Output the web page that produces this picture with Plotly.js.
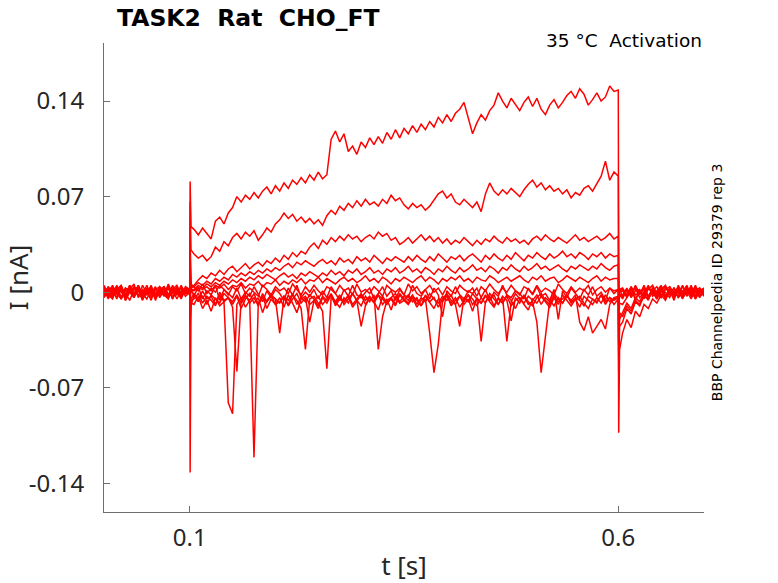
<!DOCTYPE html>
<html>
<head>
<meta charset="utf-8">
<script src="https://cdn.plot.ly/plotly-3.0.1.min.js"></script>
<style>
  html, body { margin: 0; padding: 0; background: #fff; }
  #chart { width: 778px; height: 583px; }
</style>
</head>
<body>
<div id="chart"></div>
<script>
// sample times (ms) shared by every sweep
const tMs = [
  0, 5, 10, 15, 20, 25, 30, 35, 40, 45, 50, 55, 60, 65, 70, 75, 80, 85, 90, 95,
  100, 100.5, 101.5,
  105, 110, 115, 120, 125, 130, 135, 140, 145, 150,
  155, 160, 165, 170, 175, 180, 185, 190, 195, 200,
  205, 210, 215, 220, 225, 230, 235, 240, 245, 250,
  255, 260, 265, 270, 275, 280, 285, 290, 295, 300,
  305, 310, 315, 320, 325, 330, 335, 340, 345, 350,
  355, 360, 365, 370, 375, 380, 385, 390, 395, 400,
  405, 410, 415, 420, 425, 430, 435, 440, 445, 450,
  455, 460, 465, 470, 475, 480, 485, 490, 495, 500,
  505, 510, 515, 520, 525, 530, 535, 540, 545, 550,
  555, 560, 565, 570, 575, 580, 585, 590, 595,
  600, 600.5, 601.5,
  605, 610, 615, 620, 625, 630, 635, 640, 645, 650, 655, 660, 665, 670, 675, 680, 685, 690, 695, 700
];

// currents in pA, one array per sweep
const sweep1 = [
  3, -4, 2, -5, 4, -2, 5, -3, 1, -6, 3, -1, 4, -4, 2, -3, 5, -2, 0, 3,
  2, 81, 48,
  46, 42, 47, 43, 39, 52, 55, 50, 58, 62,
  70, 66, 71, 68, 73, 69, 74, 77, 72, 78,
  74, 80, 76, 82, 79, 84, 80, 86, 82, 88,
  83, 86, 112, 118, 110, 116, 103, 107, 101, 110,
  106, 113, 108, 114, 109, 117, 112, 119, 113, 120,
  116, 122, 117, 123, 119, 125, 121, 128, 124, 130,
  125, 131, 134, 139, 127, 116, 124, 130, 126, 133,
  137, 146, 140, 135, 142, 137, 133, 139, 143, 136,
  142, 134, 130, 137, 141, 135, 139, 144, 147, 142,
  149, 145, 137, 141, 146, 140, 143, 151, 147,
  148, -6, 3,
  -4, 2, -3, 5, -1, 3, -5, 1, 4, -2, 0, -4, 3, -1, 5, -3, 2, -5, 1, -2
];
const sweep2 = [
  -2, 4, -3, 1, 5, -4, 2, -1, 3, -5, 0, 4, -2, 2, -3, 6, -1, 3, -4, 1,
  -1, 66, 31,
  28, 25, 27, 23, 26, 33, 30, 37, 34, 40,
  43, 39, 44, 41, 45, 38, 42, 47, 44, 50,
  53, 58, 54, 57, 52, 55, 51, 54, 50, 53,
  49, 56, 60, 57, 63, 60, 65, 62, 67, 63,
  68, 64, 66, 63, 68, 65, 71, 67, 69, 64,
  61, 65, 62, 64, 60, 63, 68, 72, 74, 69,
  72, 66, 64, 68, 65, 62, 66, 59, 72, 80,
  74, 71, 75, 72, 76, 73, 70, 75, 79, 82,
  77, 80, 75, 78, 74, 76, 72, 75, 69, 73,
  71, 76, 78, 74, 80, 85, 96, 82, 88,
  85, -4, 2,
  3, -2, 4, -5, 1, -3, 2, 5, -1, -4, 3, 0, -2, 4, -3, 1, -5, 2, 3, -1
];
const sweep3 = [
  1, -3, 4, -1, -5, 2, 3, -2, 5, -4, 1, -1, 3, -3, 0, 4, -5, 2, -2, 3,
  1, 40, 4,
  5, 9, 12, 10, 14, 12, 16, 13, 17, 19,
  15, 18, 21, 17, 20, 22, 19, 23, 21, 25,
  22, 27, 24, 29, 26, 30, 28, 33, 36, 32,
  38, 35, 40, 37, 41, 38, 42, 39, 41, 37,
  40, 42, 39, 44, 41, 43, 38, 40, 35, 37,
  40, 36, 39, 42, 38, 41, 37, 40, 36, 39,
  35, 38, 36, 40, 37, 34, 38, 35, 39, 37,
  41, 38, 36, 40, 37, 39, 36, 38, 35, 39,
  41, 38, 42, 39, 37, 40, 38, 36, 39, 42,
  38, 40, 37, 39, 41, 38, 40, 43, 39,
  41, -3, 1,
  2, -4, 1, 3, -2, 5, -3, 0, -5, 2, 4, -1, 3, -4, 1, -2, 5, -3, 2, 0
];
const sweep4 = [
  -3, 2, -1, 5, -4, 3, 0, -2, 4, -5, 2, 1, -3, 3, -1, -4, 2, 5, -2, 0,
  -1, 30, 3,
  4, 7, 5, 8, 6, 10, 8, 11, 9, 13,
  11, 14, 12, 15, 13, 16, 14, 17, 15, 18,
  16, 19, 21, 18, 22, 20, 23, 21, 19, 22,
  24, 21, 23, 20, 25, 22, 24, 21, 26, 23,
  25, 22, 27, 24, 21, 25, 23, 26, 24, 22,
  26, 23, 27, 24, 22, 26, 23, 28, 25, 22,
  26, 24, 27, 23, 26, 28, 25, 22, 27, 24,
  28, 25, 23, 27, 24, 29, 26, 23, 27, 25,
  29, 26, 24, 28, 25, 27, 30, 26, 28, 25,
  29, 27, 24, 28, 26, 29, 25, 28, 26,
  27, -5, 0,
  1, -3, 4, -2, 0, 3, -5, 2, -1, 4, -3, 1, -4, 5, -2, 2, 0, -3, 3, -1
];
const sweep5 = [
  4, -1, -4, 2, 1, -3, 5, -2, 3, -1, -5, 2, 0, -2, 4, -3, 1, 3, -4, 2,
  0, 22, 2,
  2, 5, 3, 6, 4, 7, 5, 8, 6, 9,
  7, 10, 8, 11, 9, 12, 10, 13, 11, 9,
  12, 14, 11, 13, 10, 14, 12, 15, 13, 11,
  14, 12, 16, 13, 15, 12, 16, 14, 17, 13,
  15, 18, 14, 16, 13, 17, 15, 18, 14, 16,
  19, 15, 17, 14, 18, 16, 13, 17, 15, 19,
  16, 14, 18, 15, 17, 20, 16, 18, 15, 19,
  17, 14, 18, 16, 20, 17, 15, 19, 16, 18,
  21, 17, 19, 16, 18, 20, 17, 15, 19, 17,
  20, 18, 16, 19, 17, 21, 18, 16, 19,
  20, -8, -2,
  -2, 3, -4, 1, 2, -5, 4, -1, -3, 2, 5, -2, 0, 3, -4, 1, -1, 4, -3, 2
];
const sweep6 = [
  0, 3, -2, 4, -5, 1, 2, -4, 3, -1, 5, -3, -2, 1, 4, -4, 2, -1, 3, -3,
  0, 15, 1,
  1, 3, 2, 4, 1, 5, 3, 6, 2, 5,
  4, 7, 3, 6, 5, 8, 4, 7, 6, 9,
  5, 8, 6, 9, 7, 10, 6, 9, 8, 11,
  7, 10, 8, 6, 9, 11, 8, 10, 7, 9,
  12, 8, 10, 7, 11, 9, 6, 10, 8, 11,
  9, 7, 10, 12, 8, 11, 9, 6, 10, 8,
  11, 9, 12, 8, 10, 7, 11, 9, 8, 12,
  10, 7, 9, 11, 8, 10, 12, 9, 7, 11,
  9, 12, 8, 10, 11, 7, 9, 12, 10, 8,
  11, 9, 7, 10, 12, 8, 11, 9, 10,
  10, -12, -3,
  -3, 1, -2, 4, -1, 2, -4, 3, 0, -3, 2, 4, -2, 1, -5, 3, -1, 2, -3, 1
];
const sweep7 = [
  2, -5, 3, -2, 4, -6, 1, 3, -3, 5, -1, -4, 2, 4, -2, -5, 3, 1, -3, 2,
  1, -132, -8,
  -9, -3, -12, -6, -14, -4, -10, -7, -81, -89,
  -9, -4, -11, -6, -121, -8, -3, -12, -5, -9,
  -4, -11, -2, -8, -15, -5, -3, -9, -6, -12,
  -4, -8, -2, -10, -5, -7, -3, -11, -6, -2,
  -9, -4, -7, -13, -3, -8, -5, -10, -2, -6,
  -9, -4, -11, -6, -3, -8, -12, -5, -7, -2,
  -10, -6, -3, -9, -5, -14, -4, -8, -2, -7,
  -11, -5, -8, -3, -10, -6, -4, -9, -13, -5,
  -8, -3, -7, -11, -4, -9, -2, -6, -10, -5,
  -3, -8, -12, -5, -7, -2, -9, -4, -6,
  -4, -103, -42,
  -30, -20, -26, -14, -18, -9, -12, -5, -8, -2, -6, 1, -4, 3, -2, 4, -3, 1, -4, 2
];
const sweep8 = [
  -3, 4, -1, 2, -5, 3, 0, -4, 5, -2, 1, -6, 3, -1, 4, -3, 2, -5, 1, 3,
  -2, -25, -10,
  -2, -7, 1, -5, -3, -9, 0, -6, -4, -11,
  -58, -6, -2, -8, -4, -10, -1, -7, -3, -5,
  -30, -4, -9, -2, -6, -12, -42, -5, -3, -8,
  -14, -56, -4, -7, -2, -9, -5, -1, -6, -10,
  -3, -7, -2, -42, -18, -6, -4, -9, -1, -5,
  -8, -3, -6, -10, -2, -7, -4, -11, -5, -1,
  -6, -9, -3, -7, -2, -5, -10, -4, -8, -1,
  -5, -9, -3, -6, -21, -4, -8, -2, -7, -10,
  -4, -1, -6, -9, -3, -7, -5, -2, -8, -4,
  -6, -10, -3, -5, -8, -2, -7, -4, -9,
  -5, -45, -20,
  -15, -8, -12, -4, -7, 0, -3, 2, -5, 1, 4, -2, 3, -4, 0, 5, -3, 2, -1, 3
];
const sweep9 = [
  5, -2, 1, -4, 3, -1, -6, 2, 4, -3, 0, 3, -5, 2, -2, 5, -4, 1, 3, -1,
  -1, -18, -6,
  -5, -1, -8, -3, -6, -10, -2, -7, -4, -9,
  -3, -12, -5, -1, -8, -4, -15, -6, -2, -9,
  -7, -3, -10, -5, -1, -8, -4, -22, -6, -3,
  -9, -5, -2, -7, -11, -4, -8, -1, -6, -25,
  -10, -4, -7, -2, -9, -5, -13, -3, -8, -6,
  -2, -7, -4, -10, -5, -30, -59, -38, -6, -3,
  -8, -4, -11, -6, -2, -9, -5, -36, -7, -3,
  -10, -4, -8, -2, -6, -12, -5, -3, -9, -7,
  -22, -59, -30, -6, -10, -4, -8, -2, -7, -5,
  -11, -3, -6, -9, -4, -8, -2, -7, -5,
  -4, -38, -15,
  -18, -10, -14, -6, -9, -3, -5, 1, -2, 3, -4, 2, 0, -3, 4, -1, 2, -5, 1, -2
];
const sweep10 = [
  -1, 3, -4, 2, 5, -3, 1, -2, 4, -5, 2, -1, -3, 4, 0, -4, 3, -2, 5, -1,
  0, -12, -5,
  -1, -6, -3, -9, -2, -5, -8, -1, -4, -7,
  -2, -8, -3, -6, -1, -9, -4, -7, -2, -5,
  -8, -3, -6, -1, -9, -4, -7, -2, -5, -10,
  -3, -6, -1, -8, -4, -7, -2, -9, -5, -1,
  -6, -3, -8, -2, -5, -9, -4, -1, -7, -3,
  -6, -2, -9, -4, -7, -1, -5, -8, -3, -6,
  -2, -9, -25, -4, -7, -1, -5, -8, -3, -6,
  -2, -9, -4, -36, -7, -1, -5, -8, -3, -6,
  -2, -9, -4, -7, -1, -5, -8, -3, -6, -2,
  -22, -28, -18, -30, -25, -20, -27, -9, -4,
  -3, -60, -25,
  -22, -12, -16, -7, -10, -2, -6, 3, -3, 1, -5, 4, -1, 2, -4, 0, 3, -2, 1, -3
];
const sweep11 = [
  -4, 1, 5, -2, 3, -6, 0, 4, -3, 2, -1, 5, -4, 1, -2, 3, -5, 4, -1, 2,
  -1, -6, 2,
  -3, 4, -5, 1, -2, 5, -6, 2, -1, -4,
  3, -5, 0, -3, 4, -2, -7, 1, -4, 2,
  -1, -6, 3, -2, 5, -4, 0, -3, 2, -5,
  1, -4, 4, -1, -6, 2, -3, 5, -2, -4,
  0, 3, -5, -1, 4, -3, 1, -6, 2, -2,
  -4, 5, -1, -3, 2, -5, 3, -2, -18, 1,
  -3, 4, -2, -5, 1, -1, 3, -4, 2, -6,
  0, -3, 5, -2, -4, 1, -1, -5, 3, -2,
  4, -3, -1, -6, 2, -20, 1, -4, 3, -1,
  -5, 2, -2, 4, -3, 0, -6, 3, -1,
  2, -20, -8,
  -9, -4, 3, -6, 1, -2, 5, -3, 0, 4, -5, 2, -1, 3, -4, 1, -2, 5, -3, 0
];
const sweep12 = [
  3, -2, -5, 4, 0, -3, 2, 6, -4, 1, -2, 3, -6, 2, 4, -1, -3, 1, -5, 4,
  2, 8, 6,
  4, 1, 6, -1, 3, 0, 5, 2, -2, 4,
  1, 6, -1, 3, 0, -3, 5, 2, -2, 4,
  1, 3, -1, 6, 2, -2, 4, 0, 5, 1,
  -2, 4, 2, -1, 5, 1, 3, -2, 6, 0,
  2, -1, 4, 1, -3, 5, 2, 0, 3, -2,
  6, 1, 4, -1, 2, 5, 0, 3, -2, 4,
  1, -1, 5, 2, 0, 3, -3, 4, 1, 6,
  2, -1, 3, 0, 5, 1, -2, 4, 2, -1,
  5, 0, 3, 1, -2, 6, 2, -1, 4, 0,
  3, 1, 5, -2, 2, 4, 0, 3, 1,
  2, -10, -1,
  -5, 2, -1, 3, -4, 0, 4, -2, 1, 5, -3, 2, -6, 3, 0, -2, 4, -4, 1, 3
];

const sweeps = [sweep1, sweep2, sweep3, sweep4, sweep5, sweep6,
                sweep7, sweep8, sweep9, sweep10, sweep11, sweep12];

const xTickVals = [0.1, 0.6];
const xTickText = ['0.1', '0.6'];
const yTickVals = [-0.14, -0.07, 0, 0.07, 0.14];
const yTickText = ['-0.14', '-0.07', '0', '0.07', '0.14'];

const chartTitle = 'TASK2\u00a0\u00a0Rat\u00a0\u00a0CHO_FT';
const condLabel = '35 °C\u00a0\u00a0Activation';
const sideLabel = 'BBP Channelpedia ID 29379 rep 3';

function renderSweeps() {
    const t = tMs.map(v => v / 1000);   // s
    const traces = sweeps.map(s => ({
        x: t,
        y: s.map(v => v / 1000),        // pA -> nA
        type: 'scatter',
        mode: 'lines',
        line: { color: '#ff0000', width: 1.5 },
        hoverinfo: 'skip',
        showlegend: false
    }));

    const tickFont = { family: 'Noto Sans', size: 24, color: '#262626' };

    const layout = {
        width: 778,
        height: 583,
        margin: { l: 104, r: 74, t: 43, b: 71 },
        paper_bgcolor: '#fff',
        plot_bgcolor: '#fff',
        title: {
            text: chartTitle,
            x: 117 / 778, xanchor: 'left', xref: 'container',
            y: 1 - 18 / 583, yanchor: 'middle', yref: 'container',
            font: { family: 'DejaVu Sans', size: 23.5, color: '#000', weight: 'bold' }
        },
        xaxis: {
            range: [0, 0.7],
            tickvals: xTickVals,
            ticktext: xTickText,
            ticks: 'inside', ticklen: 6, tickcolor: '#6e6e6e',
            showline: true, linecolor: '#6e6e6e', linewidth: 1,
            showgrid: false, zeroline: false,
            tickfont: tickFont,
            ticklabelstandoff: 4,
            title: { text: 't [s]', font: { family: 'Noto Sans', size: 26, color: '#262626' }, standoff: 6 }
        },
        yaxis: {
            range: [-0.161, 0.1825],
            tickvals: yTickVals,
            ticktext: yTickText,
            ticks: 'inside', ticklen: 6, tickcolor: '#6e6e6e',
            showline: true, linecolor: '#6e6e6e', linewidth: 1,
            showgrid: false, zeroline: false,
            tickfont: tickFont,
            ticklabelstandoff: 14,
            title: { text: 'I [nA]', font: { family: 'Noto Sans', size: 26, color: '#262626' }, standoff: 14 }
        },
        annotations: [
            {
                text: condLabel,
                xref: 'paper', yref: 'paper', x: 1, y: 1,
                xanchor: 'right', yanchor: 'middle', yshift: 3,
                showarrow: false,
                font: { family: 'DejaVu Sans', size: 18.5, color: '#000' }
            },
            {
                text: sideLabel,
                xref: 'paper', yref: 'paper', x: 1.0217, y: 0.49,
                xanchor: 'center', yanchor: 'middle',
                textangle: -90,
                showarrow: false,
                font: { family: 'DejaVu Sans', size: 14, color: '#000' }
            }
        ]
    };

    Plotly.newPlot('chart', traces, layout, { displayModeBar: false, staticPlot: true });
}

renderSweeps();
</script>
</body>
</html>
